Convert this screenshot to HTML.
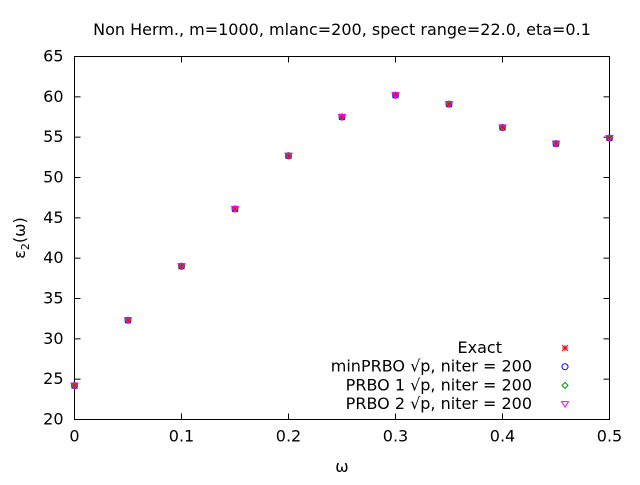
<!DOCTYPE html>
<html><head><meta charset="utf-8"><style>
body{margin:0;background:#fff}
svg{font-family:"DejaVu Sans","Liberation Sans",sans-serif;font-size:16px}
</style></head><body>
<svg id="chart" width="640" height="480">
<rect x="0" y="0" width="640" height="480" fill="#fff"/>
<text x="342" y="35" text-anchor="middle">Non Herm., m=1000, mlanc=200, spect range=22.0, eta=0.1</text>
<g id="axes"></g>
<g id="marks"></g>
<text x="342" y="472" text-anchor="middle">ω</text>
<text transform="translate(25,238) rotate(-90)" text-anchor="middle">ε<tspan font-size="11" dy="4">2</tspan><tspan dy="-4">(ω)</tspan></text>
<g id="legend"></g>
</svg>
<script>
const xs=[0,0.05,0.1,0.15,0.2,0.25,0.3,0.35,0.4,0.45,0.5];
const exact=[24.2,32.3,39.0,46.1,52.7,57.5,60.2,59.1,56.2,54.2,54.9];
const minprbo=[24.2,32.3,39.0,46.1,52.7,57.5,60.2,59.1,56.2,54.2,54.9];
const prbo1=[24.2,32.3,39.0,46.1,52.7,57.5,60.2,59.1,56.2,54.2,54.9];
const prbo2=[24.2,32.3,39.0,46.1,52.7,57.5,60.2,59.1,56.2,54.2,54.9];
const xticks=[0,0.1,0.2,0.3,0.4,0.5];
const yticks=[20,25,30,35,40,45,50,55,60,65];
const L=74.5,R=609.5,T=56.5,B=419.5;
const sx=v=>L+(v-0)/(0.5)*(R-L);
const sy=v=>B-(v-20)/45*(B-T);
const NS='http://www.w3.org/2000/svg';
function mk(tag,attrs,parent){const e=document.createElementNS(NS,tag);for(const k in attrs)e.setAttribute(k,attrs[k]);parent.appendChild(e);return e;}
const ax=document.getElementById('axes');
const frame=mk('rect',{x:L,y:T,width:R-L,height:B-T,fill:'none',stroke:'#000','stroke-width':1},ax);


xticks.forEach(v=>{const x=sx(v);
mk('line',{x1:x,y1:B,x2:x,y2:B-6,stroke:'#000'},ax);
mk('line',{x1:x,y1:T,x2:x,y2:T+6,stroke:'#000'},ax);
const t=mk('text',{x:x,y:B+22,'text-anchor':'middle'},ax);t.textContent=String(v);

});
yticks.forEach(v=>{const y=sy(v);
mk('line',{x1:L,y1:y,x2:L+6,y2:y,stroke:'#000'},ax);
mk('line',{x1:R,y1:y,x2:R-6,y2:y,stroke:'#000'},ax);
const t=mk('text',{x:L-11,y:y+5,'text-anchor':'end'},ax);t.textContent=String(v);

});
function star(g,x,y,c){const s=3;[[-s,0,s,0],[0,-s,0,s],[-s,-s,s,s],[-s,s,s,-s]].forEach(a=>mk('line',{x1:x+a[0],y1:y+a[1],x2:x+a[2],y2:y+a[3],stroke:c,'stroke-width':1},g));}
function circ(g,x,y,c){mk('circle',{cx:x,cy:y,r:3,fill:'none',stroke:c,'stroke-width':1},g);}
function diam(g,x,y,c){mk('polygon',{points:`${x},${y-3} ${x+3},${y} ${x},${y+3} ${x-3},${y}`,fill:'none',stroke:c,'stroke-width':1},g);}
function tri(g,x,y,c){mk('polygon',{points:`${x-3.5},${y-2.5} ${x+3.5},${y-2.5} ${x},${y+3}`,fill:'none',stroke:c,'stroke-width':1},g);}
const series=[[exact,'#ff0000',star,'Exact','series-exact'],[minprbo,'#0000ff',circ,'minPRBO √p, niter = 200','series-minprbo'],[prbo1,'#009900',diam,'PRBO 1 √p, niter = 200','series-prbo1'],[prbo2,'#ff00ff',tri,'PRBO 2 √p, niter = 200','series-prbo2']];
const mg=document.getElementById('marks');const lg=document.getElementById('legend');
series.forEach((s,i)=>{const g=mk('g',{},mg);


s[0].forEach((v,j)=>s[2](g,sx(xs[j]),sy(v),s[1]));
const ly=348+i*18.7;
const t=mk('text',{x:i===0?502:532,y:ly+5,'text-anchor':'end'},lg);t.textContent=s[3];


s[2](lg,565,ly,s[1]);});
</script>
</body></html>
